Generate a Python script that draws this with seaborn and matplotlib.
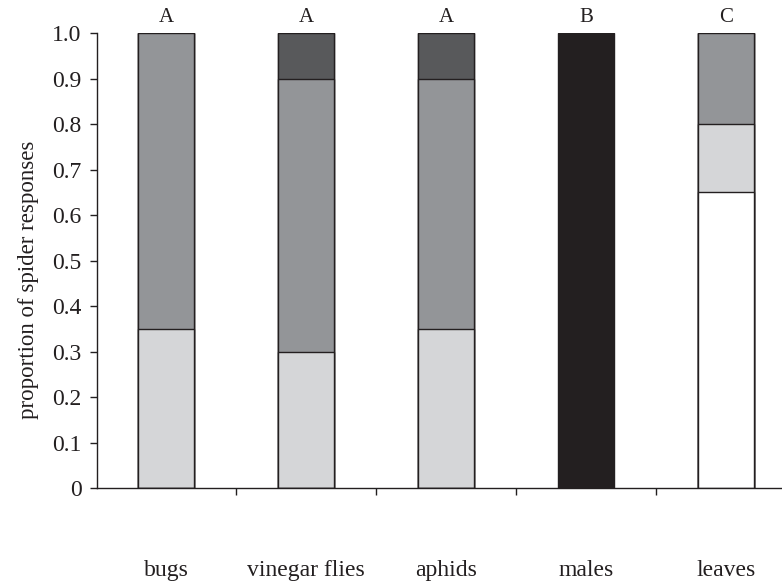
import numpy as np
import pandas as pd
import matplotlib
matplotlib.use("Agg")
import matplotlib.pyplot as plt
import seaborn as sns

# categorias y proporciones (de abajo hacia arriba)
categories = ["bugs", "vinegar flies", "aphids", "males", "leaves"]
letters = ["A", "A", "A", "B", "C"]
white_part = [0.0, 0.0, 0.0, 0.0, 0.65]
light_part = [0.35, 0.30, 0.35, 0.0, 0.15]
mid_part = [0.65, 0.60, 0.55, 0.0, 0.20]
dark_part = [0.0, 0.10, 0.10, 0.0, 0.0]
black_part = [0.0, 0.0, 0.0, 1.0, 0.0]

layers = [white_part, light_part, mid_part, dark_part, black_part]
colors = ["#ffffff", "#d5d6d8", "#939598", "#58595b", "#231f20"]
edge = "#231f20"

sns.set_style("white")
plt.rcParams["font.family"] = ["Liberation Serif", "DejaVu Serif"]

fig = plt.figure(figsize=(7.82, 5.82), dpi=100)
ax = fig.add_axes([0.124, 0.1615, 0.876, 0.7815])

cum = np.cumsum(np.array(layers), axis=0)
# dibujar de arriba hacia abajo para apilar
for i in range(len(layers) - 1, -1, -1):
    df = pd.DataFrame({"cat": categories, "val": cum[i]})
    sns.barplot(data=df, x="cat", y="val", color=colors[i], saturation=1,
                width=0.4, edgecolor=edge, linewidth=1.0, ax=ax, zorder=2)

for j, s in enumerate(letters):
    ax.text(j, 1.014, s, ha="center", va="bottom", fontsize=15, color="#231f20")

ax.set_xlim(-0.493, 4.4)
ax.set_ylim(0, 1.0)
ax.set_yticks(np.arange(0, 1.01, 0.1))
ax.set_yticklabels(["0"] + [f"{v:.1f}" for v in np.arange(0.1, 1.01, 0.1)])
ax.set_xticks([0.5, 1.5, 2.5, 3.5], minor=True)
ax.set_xticks(range(len(categories)))
ax.set_xticklabels(categories)
ax.tick_params(axis="x", which="major", length=0, pad=52, labelsize=17, colors="#231f20")
ax.tick_params(axis="x", which="minor", length=5, width=1, color="#231f20", direction="out", bottom=True)
ax.tick_params(axis="y", length=5, width=1, color="#231f20", direction="out", left=True,
               labelsize=17, labelcolor="#231f20", pad=6)
ax.set_xlabel("")
ax.set_ylabel("proportion of spider responses", fontsize=16.5, color="#231f20")
ax.yaxis.set_label_coords(-0.085, 0.457)

for sp in ["top", "right"]:
    ax.spines[sp].set_visible(False)
for sp in ["left", "bottom"]:
    ax.spines[sp].set_color("#231f20")
    ax.spines[sp].set_linewidth(1.0)
ax.spines["bottom"].set_zorder(5)

fig.savefig("out.png", dpi=100)
